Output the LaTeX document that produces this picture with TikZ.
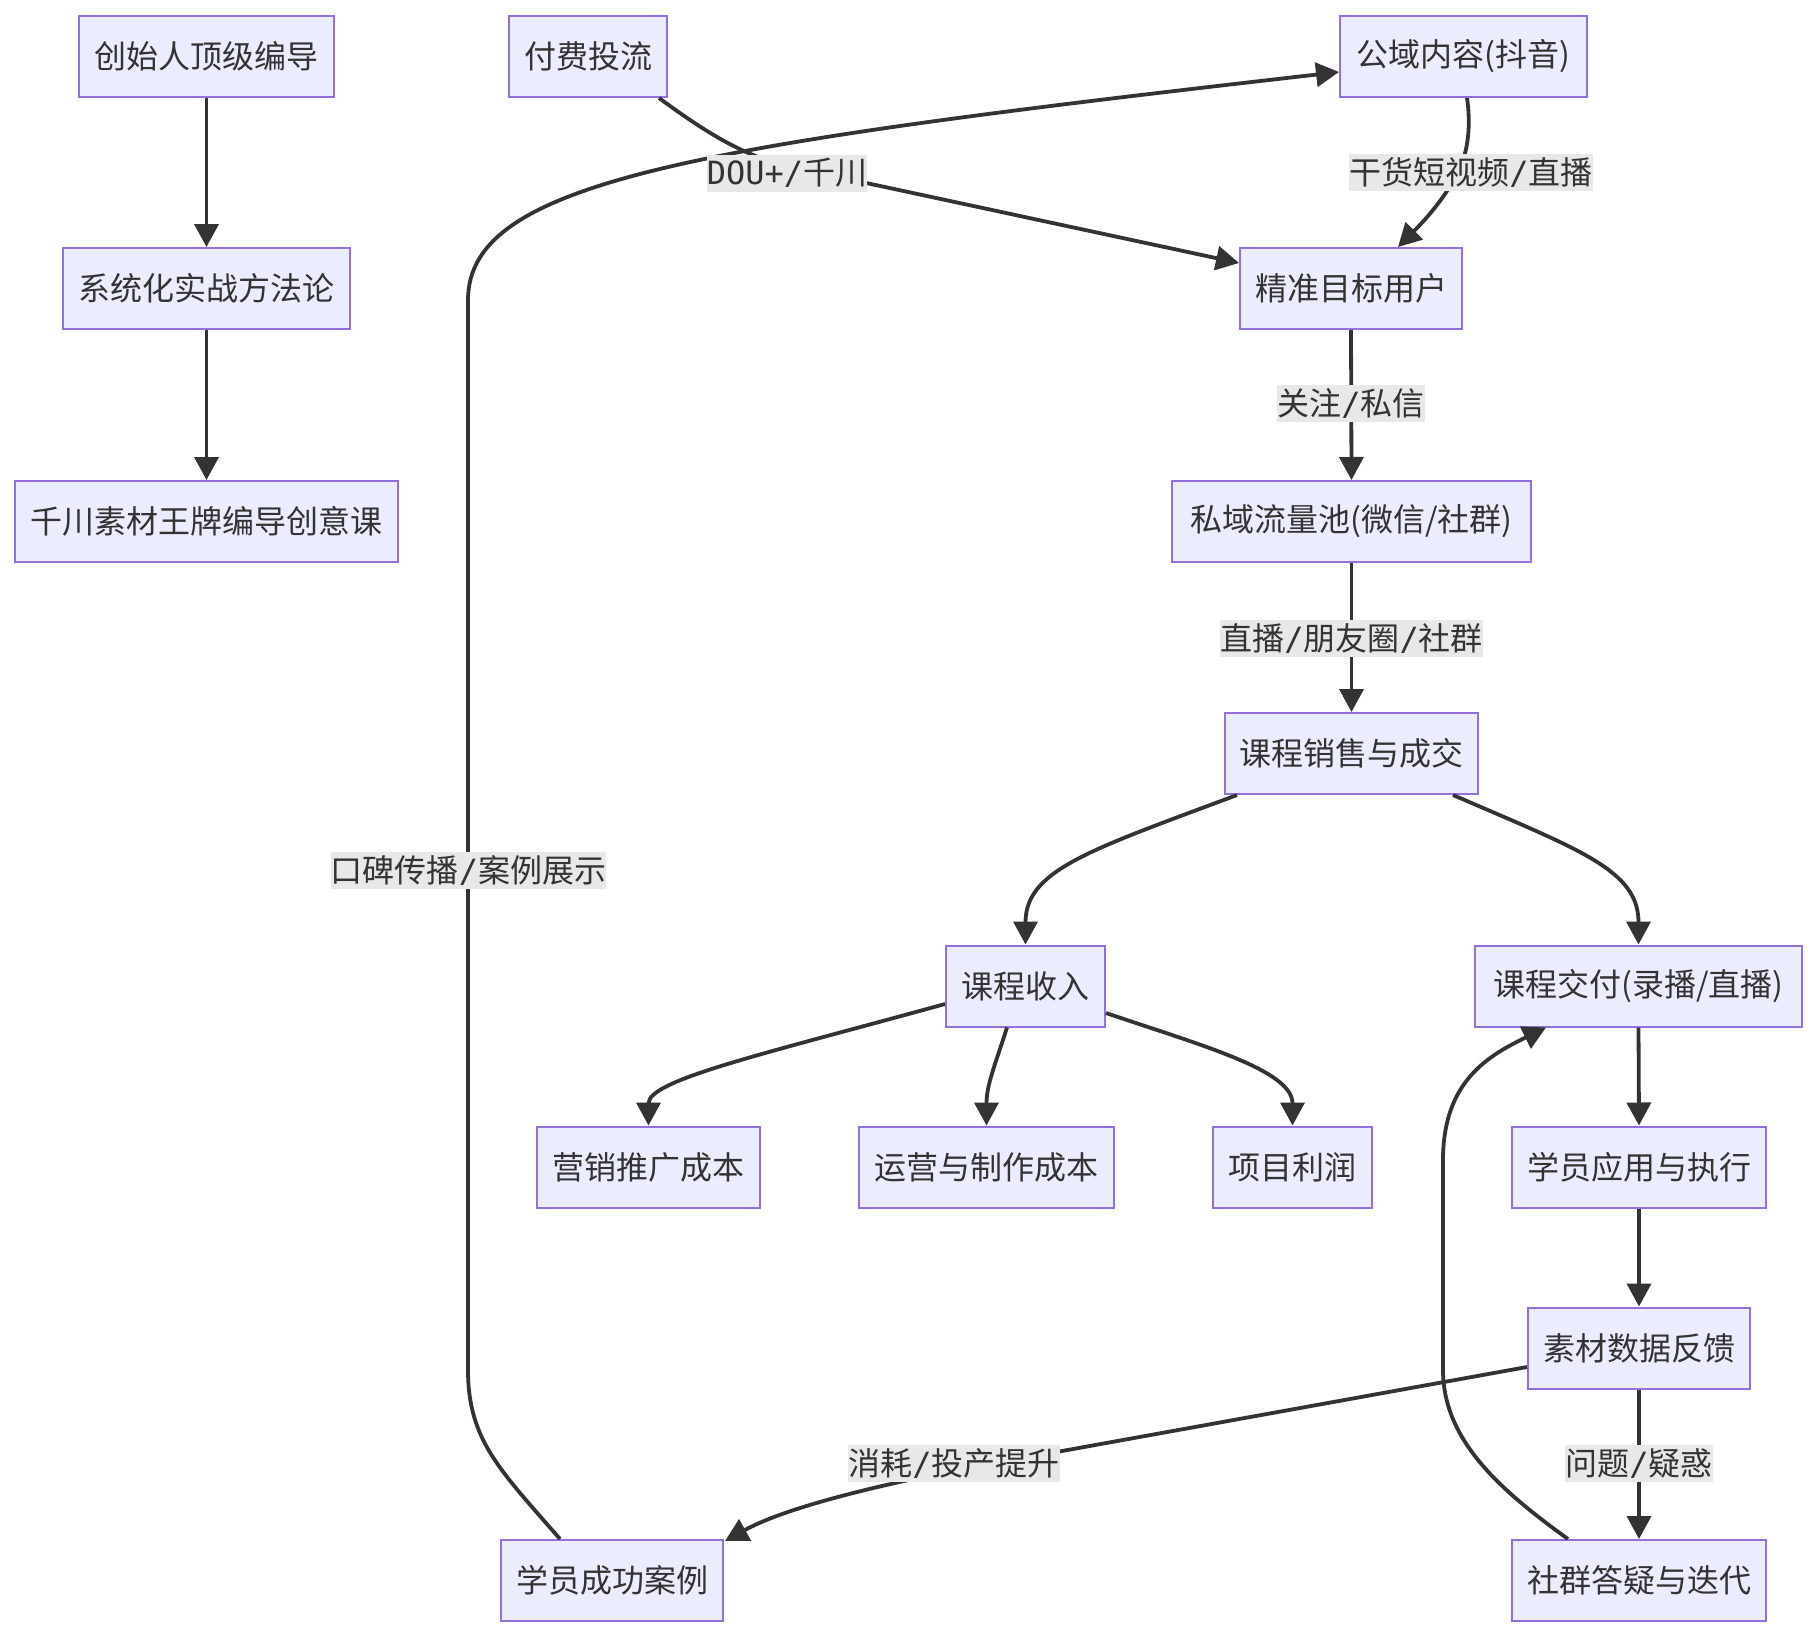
\documentclass[tikz,border=0pt]{standalone}
\usepackage{fontspec}
\setmainfont{Noto Sans CJK SC}
\newfontfamily\lmono{DejaVu Sans Mono}
\usetikzlibrary{arrows.meta,calc}
\definecolor{nodefill}{HTML}{ECECFF}
\definecolor{nodeline}{HTML}{9370DB}
\definecolor{edgecol}{HTML}{333333}
\definecolor{lblbg}{HTML}{E8E8E8}
\begin{document}
\begin{tikzpicture}[x=0.5pt,y=-0.5pt,
  box/.style={draw=nodeline, fill=nodefill, line width=1pt, minimum height=40.5pt,
    inner sep=0pt, text=edgecol, font=\fontsize{16pt}{19pt}\selectfont},
  lbl/.style={fill=lblbg, inner sep=0pt, minimum height=18.5pt, text=edgecol,
    font=\fontsize{16pt}{19pt}\selectfont},
  edge/.style={draw=edgecol, line width=1.9pt, -{Triangle[length=11.5pt,width=12pt]}},
]
\useasboundingbox[fill=white] (0,0) rectangle (1820,1638);

% nodes
\node[box, minimum width=127.5pt] (n1) at (206.5,56.5) {创始人顶级编导};
\node[box, minimum width=143.5pt] (n2) at (206.5,288.5) {系统化实战方法论};
\node[box, minimum width=191.5pt] (n3) at (206.5,521.5) {千川素材王牌编导创意课};
\node[box, minimum width=79pt] (n4) at (588,56.5) {付费投流};
\node[box, minimum width=123.5pt] (n5) at (1463.5,56.5) {公域内容(抖音)};
\node[box, minimum width=111pt] (n6) at (1351,288.5) {精准目标用户};
\node[box, minimum width=179.5pt] (n7) at (1351.5,521.5) {私域流量池(微信/社群)};
\node[box, minimum width=126.5pt] (n8) at (1351.5,753.5) {课程销售与成交};
\node[box, minimum width=79.5pt] (n9) at (1025.5,986) {课程收入};
\node[box, minimum width=163.5pt] (n10) at (1638.5,986) {课程交付(录播/直播)};
\node[box, minimum width=111.5pt] (n11) at (648.5,1167) {营销推广成本};
\node[box, minimum width=127.5pt] (n12) at (986.5,1167) {运营与制作成本};
\node[box, minimum width=79.5pt] (n13) at (1292.5,1167) {项目利润};
\node[box, minimum width=127pt] (n14) at (1639,1167) {学员应用与执行};
\node[box, minimum width=111pt] (n15) at (1639,1348) {素材数据反馈};
\node[box, minimum width=111pt] (n16) at (612,1580.5) {学员成功案例};
\node[box, minimum width=127pt] (n17) at (1639,1580.5) {社群答疑与迭代};

% edges
\draw[edge] (n1.south) -- (n2.north);
\draw[edge] (n2.south) -- (n3.north);
\draw[edge] ($(n4.south east)+(-9,0)$) .. controls (700,128) and (740,155) .. (787,166)
  -- ($(n6.west)+(0,-25.5)$);
\draw[edge] ($(n5.south)+(3.5,0)$) .. controls (1471,125) and (1468,150) .. (1460,168)
  .. controls (1445,200) and (1420,225) .. ($(n6.north)+(47,0)$);
\draw[edge] (n6.south) -- (n7.north);
\draw[edge] (n7.south) -- (n8.north);
\draw[edge] ($(n8.south)+(-114.5,0)$) .. controls (1090,850) and (1025.5,870) .. (n9.north);
\draw[edge] ($(n8.south)+(101.5,0)$) .. controls (1580,850) and (1638.5,870) .. (n10.north);
\draw[edge] ($(n9.west)+(0,18)$) .. controls (760,1055) and (648.5,1080) .. (n11.north);
\draw[edge] ($(n9.south)+(-18.5,0)$) .. controls (995,1065) and (986.5,1085) .. (n12.north);
\draw[edge] ($(n9.east)+(0,27)$) .. controls (1200,1045) and (1292.5,1070) .. (n13.north);
\draw[edge] (n10.south) -- (n14.north);
\draw[edge] (n14.south) -- (n15.north);
\draw[edge] (n15.south) -- (n17.north);
\draw[edge] ($(n15.west)+(0,19)$) -- (990,1464) .. controls (900,1480) and (790,1505)
  .. ($(n16.north east)+(1,2)$);
\draw[edge] ($(n17.north west)+(57,0)$) .. controls (1500,1490) and (1443,1440) .. (1443,1370)
  -- (1443,1160) .. controls (1443,1080) and (1490,1055) .. ($(n10.south west)+(72,0)$);
\draw[edge] ($(n16.north west)+(60,0)$) .. controls (500,1470) and (468,1440) .. (468,1370)
  -- (468,300) .. controls (468,180) and (700,145) .. ($(n5.west)+(0,15.5)$);

% labels
\node[lbl] (l1) at (787,173) {{\lmono DOU+/}千川};
\node[lbl] (l2) at (1471,172) {干货短视频{\lmono /}直播};
\node[lbl] (l3) at (1351,403.5) {关注{\lmono /}私信};
\node[lbl] (l4) at (1351.5,638) {直播{\lmono /}朋友圈{\lmono /}社群};
\node[lbl] (l5) at (468.5,870) {口碑传播{\lmono /}案例展示};
\node[lbl] (l6) at (954,1463.5) {消耗{\lmono /}投产提升};
\node[lbl] (l7) at (1639,1463.5) {问题{\lmono /}疑惑};
\end{tikzpicture}
\end{document}
